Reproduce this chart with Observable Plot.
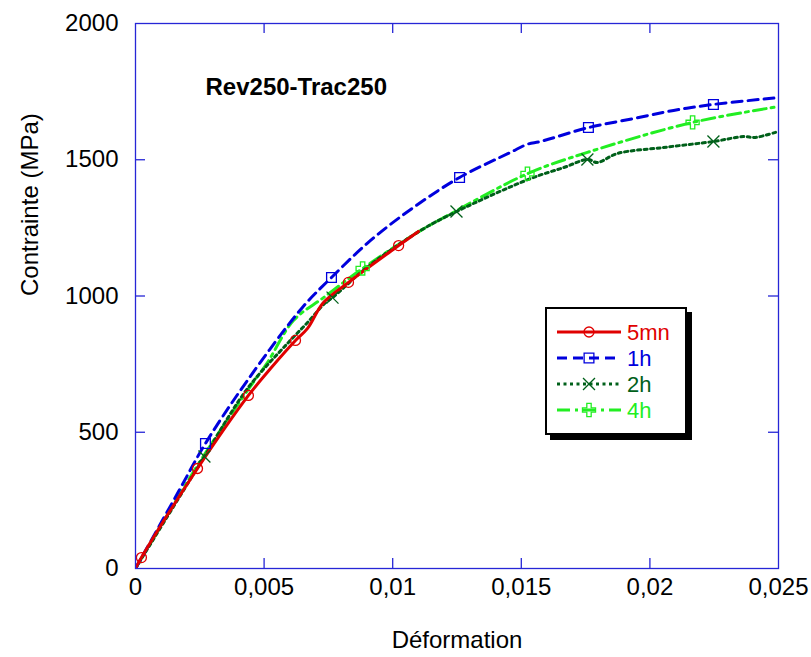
<!DOCTYPE html>
<html><head><meta charset="utf-8">
<script src="https://cdn.jsdelivr.net/npm/d3@7"></script>
<script src="https://cdn.jsdelivr.net/npm/@observablehq/plot@0.6"></script>
<style>
body{margin:0;background:#fff;font-family:"Liberation Sans",Arial,Helvetica,sans-serif;}
#wrap{position:relative;width:811px;height:657px;}
#legend{position:absolute;left:545px;top:307px;width:142px;height:128px;box-sizing:border-box;border:2px solid #000;background:#fff;box-shadow:5px 5px 0 #000;}
#legend svg{display:block;}
</style></head><body><div id="wrap"></div>
<script>
// ---- data (strain, stress MPa) ----
const strain5mn = [0, 0.00023, 0.00241, 0.00439, 0.00525, 0.00622, 0.00669, 0.0073, 0.00828, 0.01023, 0.011];
const stress5mn = [0, 40, 367, 635, 734, 837, 881, 975, 1050, 1185, 1237];
const mStrain5mn = [0.00023, 0.00241, 0.00439, 0.00622, 0.00828, 0.01023];
const mStress5mn = [40, 367, 635, 837, 1050, 1185];

const strain1h = [0, 0.00163, 0.00272, 0.00435, 0.00649, 0.00762, 0.00914, 0.01081, 0.0126, 0.01458, 0.01524, 0.01575, 0.01761, 0.01936, 0.02092, 0.02247, 0.025];
const stress1h = [0, 275, 459, 690, 958, 1068, 1204, 1325, 1435, 1527, 1557, 1567, 1618, 1651, 1681, 1703, 1728];
const mStrain1h = [0.00272, 0.00762, 0.0126, 0.01761, 0.02247];
const mStress1h = [459, 1068, 1435, 1618, 1703];

const strain2h = [0, 0.00268, 0.00435, 0.00591, 0.00669, 0.00739, 0.00766, 0.009, 0.01108, 0.01248, 0.01536, 0.01664, 0.01757, 0.01796, 0.01874, 0.02053, 0.02247, 0.02364, 0.0241, 0.025];
const stress2h = [0, 411, 660, 826, 903, 976, 994, 1105, 1240, 1310, 1431, 1471, 1501, 1490, 1523, 1545, 1567, 1585, 1582, 1604];
const mStrain2h = [0.00268, 0.00766, 0.01248, 0.01757, 0.02247];
const mStress2h = [411, 994, 1310, 1501, 1567];

const strain4h = [0, 0.00241, 0.00435, 0.00513, 0.00614, 0.00731, 0.00883, 0.01108, 0.01213, 0.01524, 0.01757, 0.02166, 0.025];
const stress4h = [0, 378, 653, 756, 910, 994, 1101, 1240, 1295, 1449, 1527, 1637, 1695];
const mStrain4h = [0.00883, 0.01524, 0.02166];
const mStress4h = [1101, 1449, 1637];

const seriesNames = ["5mn", "1h", "2h", "4h"];
const xTicks = [0, 0.005, 0.01, 0.015, 0.02, 0.025];
const yTicks = [0, 500, 1000, 1500, 2000];
const xInnerTicks = [0.005, 0.01, 0.015, 0.02];
const yInnerTicks = [500, 1000, 1500];
const titleText = "Rev250-Trac250";
const xLabel = "Déformation";
const yLabel = "Contrainte (MPa)";

// ---- styles ----
const styles = {
  "5mn": {color: "#e00000", dash: null, symbol: "circle"},
  "1h": {color: "#0000dd", dash: "10,6", symbol: "square"},
  "2h": {color: "#00601a", dash: "3,3.5", symbol: "times"},
  "4h": {color: "#22ee22", dash: "13,5,3,5", symbol: "cross"}
};
const lineData = {
  "5mn": [strain5mn, stress5mn], "1h": [strain1h, stress1h],
  "2h": [strain2h, stress2h], "4h": [strain4h, stress4h]
};
const markData = {
  "5mn": [mStrain5mn, mStress5mn], "1h": [mStrain1h, mStress1h],
  "2h": [mStrain2h, mStress2h], "4h": [mStrain4h, mStress4h]
};
const toRows = ([xs, ys]) => xs.map((x, i) => ({x, y: ys[i]}));

const W = 811, H = 657, mL = 135, mR = 33, mT = 23, mB = 89;
const pw = W - mL - mR, ph = H - mT - mB, tick = 10;
const frameColor = "#2626d6";
const fs = 24;
const fmt = d => d === 0 ? "0" : String(d).replace(".", ",");

const marks = [];
for (const name of ["4h", "2h", "1h", "5mn"]) {
  const s = styles[name];
  marks.push(Plot.line(toRows(lineData[name]), {x: "x", y: "y", stroke: s.color, strokeWidth: 3,
    strokeDasharray: s.dash, curve: "catmull-rom", clip: true}));
}
for (const name of ["4h", "2h", "1h", "5mn"]) {
  const s = styles[name];
  marks.push(Plot.dot(toRows(markData[name]), {x: "x", y: "y", symbol: () => s.symbol, stroke: s.color,
    fill: "none", strokeWidth: 1.3, r: s.symbol === "circle" ? 5 : 5.5}));
}
marks.push(
  Plot.frame({stroke: frameColor, strokeWidth: 1.3}),
  Plot.tickY(yInnerTicks, {y: d => d, stroke: frameColor, strokeWidth: 1.3, insetRight: pw - tick}),
  Plot.tickY(yInnerTicks, {y: d => d, stroke: frameColor, strokeWidth: 1.3, insetLeft: pw - tick}),
  Plot.tickX(xInnerTicks, {x: d => d, stroke: frameColor, strokeWidth: 1.3, insetTop: ph - tick}),
  Plot.tickX(xInnerTicks, {x: d => d, stroke: frameColor, strokeWidth: 1.3, insetBottom: ph - tick}),
  Plot.axisX(xTicks, {tickSize: 0, tickPadding: 9, tickFormat: fmt, label: null, fill: "#000", fontSize: fs}),
  Plot.axisY(yTicks, {tickSize: 0, tickPadding: 17, tickFormat: d => String(d), label: null, fill: "#000", fontSize: fs}),
  Plot.text([titleText], {text: d => d, frameAnchor: "top-left", dx: 70, dy: 54, textAnchor: "start",
    fontWeight: "bold", fontSize: fs, fill: "#000"}),
  Plot.text([xLabel], {text: d => d, frameAnchor: "bottom", dy: 79, fontSize: fs, fill: "#000"}),
  Plot.text([yLabel], {text: d => d, frameAnchor: "left", dx: -105, rotate: -90, fontSize: fs, fill: "#000"})
);

const chart = Plot.plot({
  width: W, height: H,
  marginLeft: mL, marginRight: mR, marginTop: mT, marginBottom: mB,
  style: {fontFamily: '"Liberation Sans", Arial, Helvetica, sans-serif', fontSize: fs + "px", background: "#fff", color: "#000"},
  x: {domain: [0, 0.025], axis: null},
  y: {domain: [0, 2000], axis: null},
  marks
});
const wrap = document.getElementById("wrap");
wrap.appendChild(chart);

// ---- legend ----
const leg = document.createElement("div");
leg.id = "legend";
wrap.appendChild(leg);
const lsvg = d3.select(leg).append("svg").attr("width", 138).attr("height", 124);
const rowY = [23, 49, 75, 101];
const symMap = {circle: d3.symbolCircle, square: d3.symbolSquare, times: d3.symbolTimes, cross: d3.symbolCross};
seriesNames.forEach((name, i) => {
  const s = styles[name];
  const g = lsvg.append("g").attr("transform", `translate(0,${rowY[i]})`);
  g.append("line").attr("x1", 10).attr("x2", 74).attr("y1", 0).attr("y2", 0)
    .attr("stroke", s.color).attr("stroke-width", 3).attr("stroke-dasharray", s.dash);
  const r = s.symbol === "circle" ? 5 : 5.5;
  g.append("path").attr("transform", "translate(42,0)")
    .attr("d", d3.symbol(symMap[s.symbol], Math.PI * r * r)())
    .attr("fill", "none").attr("stroke", s.color).attr("stroke-width", 1.3);
  g.append("text").attr("x", 80).attr("y", 0).attr("dy", "0.36em")
    .attr("font-size", 22).attr("fill", s.color).attr("font-family", '"Liberation Sans", Arial, sans-serif').text(name);
});
</script></body></html>
